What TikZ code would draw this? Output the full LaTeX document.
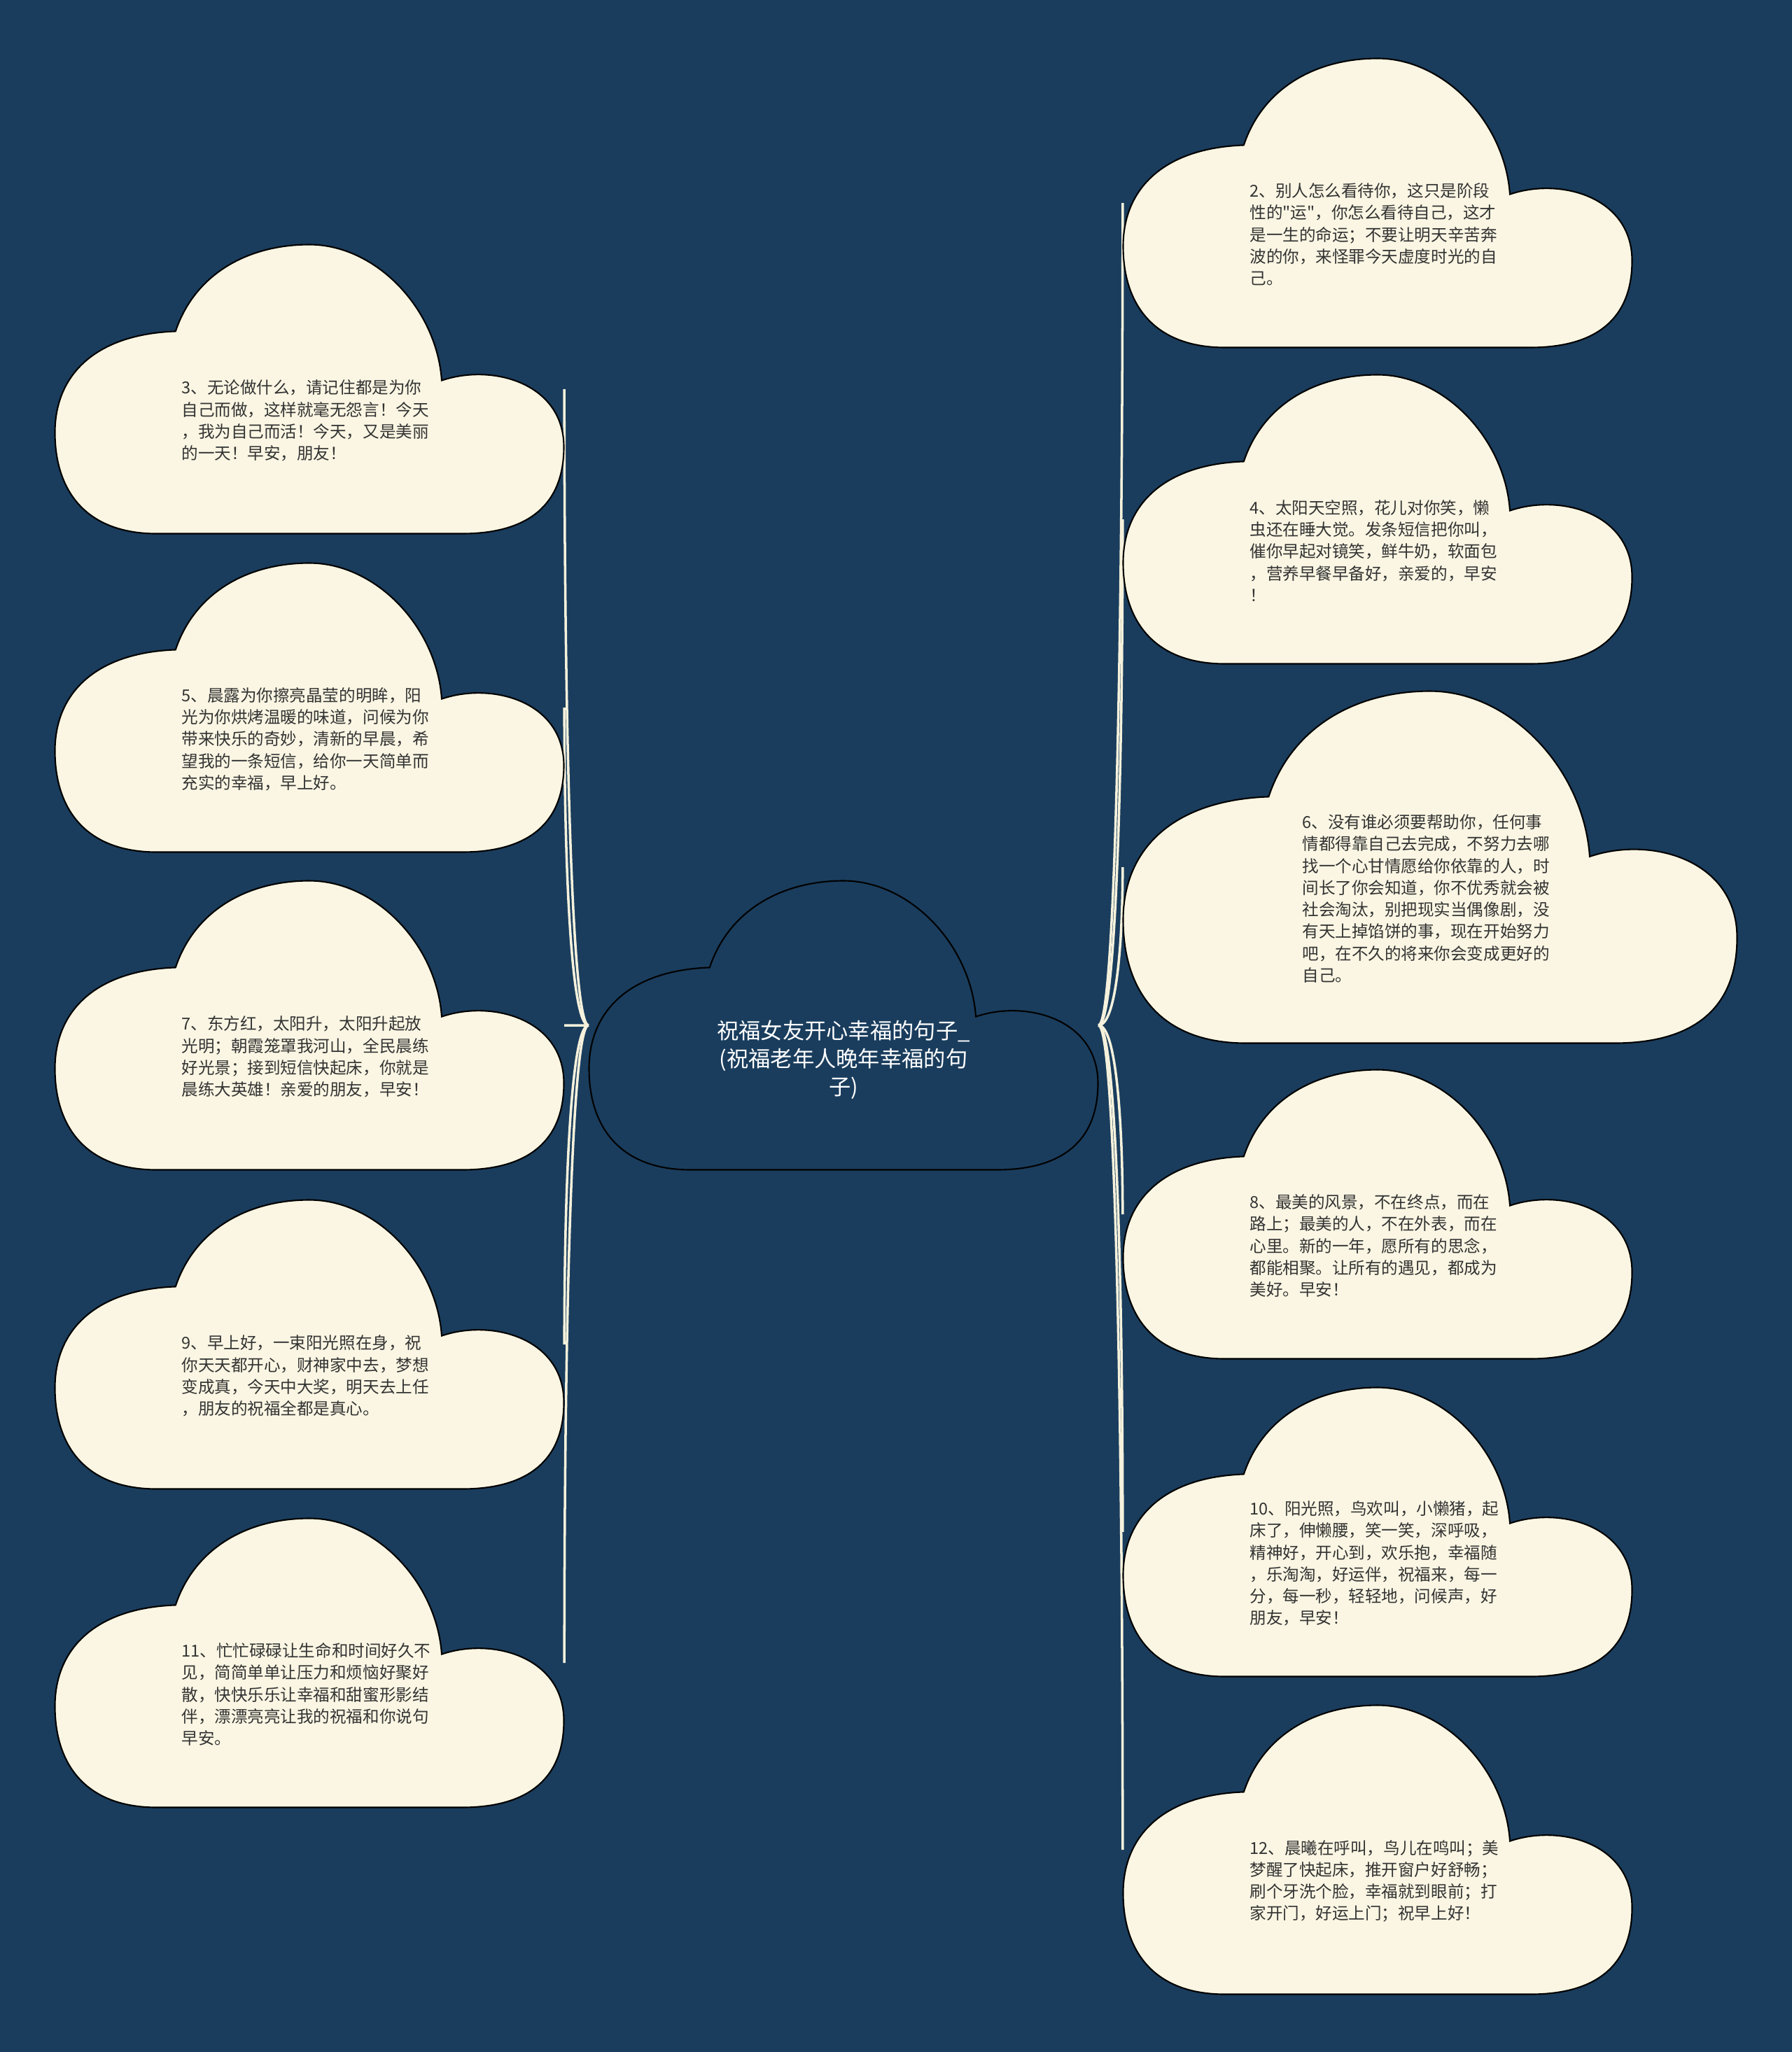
\documentclass[tikz,border=0pt]{standalone}
\usepackage{fontspec}
\setmainfont{Noto Sans CJK SC}[Ligatures=TeXOff]
\usepackage{tikz}
\usetikzlibrary{positioning,calc}
\definecolor{navy}{HTML}{1A3D5D}
\definecolor{cream}{HTML}{FAF6E3}
\definecolor{ink}{HTML}{333333}
\definecolor{twig}{HTML}{F5F1DC}
\tikzset{
  cloudbox/.style={minimum width=7.27cm, minimum height=4.13cm, inner sep=0pt},
  bigbox/.style={minimum width=8.77cm, minimum height=5.03cm, inner sep=0pt},
  cloudskin/.style={fill=cream, draw=black, line width=0.6pt},
  rootskin/.style={fill=navy, draw=black, line width=0.6pt},
  cloudtext/.style={text=ink, font=\fontsize{6.7}{8.9}\selectfont, text width=3.55cm, align=left, inner sep=0pt},
  roottext/.style={text=white, font=\fontsize{8.9}{11.4}\selectfont, align=center, inner sep=0pt},
  link/.style={twig, line width=1pt},
  pics/cloud/.style 2 args={code={
    \path[pic actions, xscale=#1, yscale=#2] (-0.263,0.2)
      .. controls (-0.225,0.4) and (-0.12,0.5) .. (0,0.5)
      .. controls (0.13,0.5) and (0.25,0.28) .. (0.26,0.03)
      .. controls (0.36,0.09) and (0.5,0.02) .. (0.5,-0.2)
      .. controls (0.5,-0.4) and (0.43,-0.5) .. (0.3,-0.5)
      -- (-0.3,-0.5)
      .. controls (-0.44,-0.5) and (-0.5,-0.35) .. (-0.5,-0.15)
      .. controls (-0.5,0.05) and (-0.42,0.19) .. (-0.263,0.2) -- cycle;
  }}
}

\begin{document}
\begin{tikzpicture}
  \fill[navy] (0,0) rectangle (25.6,-29.32);

  % cloud frames
  \node[cloudbox] (root) at (12.05,-14.65) {};
  \node[cloudbox] (n3)  at (4.42,-5.56) {};
  \node[cloudbox] (n5)  at (4.42,-10.11) {};
  \node[cloudbox] (n7)  at (4.42,-14.65) {};
  \node[cloudbox] (n9)  at (4.42,-19.21) {};
  \node[cloudbox] (n11) at (4.42,-23.76) {};
  \node[cloudbox] (n2)  at (19.68,-2.90) {};
  \node[cloudbox] (n4)  at (19.68,-7.42) {};
  \node[bigbox]   (n6)  at (20.43,-12.39) {};
  \node[cloudbox] (n8)  at (19.68,-17.35) {};
  \node[cloudbox] (n10) at (19.68,-21.89) {};
  \node[cloudbox] (n12) at (19.68,-26.43) {};

  % branches
  \foreach \n in {n3,n5,n7,n9,n11}
    \draw[link] (root.west) .. controls +(-0.25,0) and ($(\n.east)!0.5!(\n.east |- root.west)$) .. (\n.east);
  \foreach \n in {n2,n4,n6,n8,n10,n12}
    \draw[link] (root.east) .. controls +(0.25,0) and ($(\n.west)!0.5!(\n.west |- root.east)$) .. (\n.west);

  \pic[rootskin] at (root.center) {cloud={7.27}{4.13}};
  \foreach \n in {n3,n5,n7,n9,n11,n2,n4,n8,n10,n12}
    \pic[cloudskin] at (\n.center) {cloud={7.27}{4.13}};
  \pic[cloudskin] at (n6.center) {cloud={8.77}{5.03}};

  % texts
  \node[roottext] (t1) at ([yshift=-0.49cm]root.center) {祝福女友开心幸福的句子\_\\(祝福老年人晚年幸福的句\\子)};
  \node[cloudtext] (t2) at ([xshift=-0.05cm,yshift=-0.45cm]n2.center) {2、别人怎么看待你，这只是阶段\\性的"运"，你怎么看待自己，这才\\是一生的命运；不要让明天辛苦奔\\波的你，来怪罪今天虚度时光的自\\己。};
  \node[cloudtext] (t3) at ([xshift=-0.05cm,yshift=-0.45cm]n3.center) {3、无论做什么，请记住都是为你\\自己而做，这样就毫无怨言！今天\\，我为自己而活！今天，又是美丽\\的一天！早安，朋友！};
  \node[cloudtext] (t4) at ([xshift=-0.05cm,yshift=-0.45cm]n4.center) {4、太阳天空照，花儿对你笑，懒\\虫还在睡大觉。发条短信把你叫，\\催你早起对镜笑，鲜牛奶，软面包\\，营养早餐早备好，亲爱的，早安\\！};
  \node[cloudtext] (t5) at ([xshift=-0.05cm,yshift=-0.45cm]n5.center) {5、晨露为你擦亮晶莹的明眸，阳\\光为你烘烤温暖的味道，问候为你\\带来快乐的奇妙，清新的早晨，希\\望我的一条短信，给你一天简单而\\充实的幸福，早上好。};
  \node[cloudtext] (t6) at ([xshift=-0.05cm,yshift=-0.45cm]n6.center) {6、没有谁必须要帮助你，任何事\\情都得靠自己去完成，不努力去哪\\找一个心甘情愿给你依靠的人，时\\间长了你会知道，你不优秀就会被\\社会淘汰，别把现实当偶像剧，没\\有天上掉馅饼的事，现在开始努力\\吧，在不久的将来你会变成更好的\\自己。};
  \node[cloudtext] (t7) at ([xshift=-0.05cm,yshift=-0.45cm]n7.center) {7、东方红，太阳升，太阳升起放\\光明；朝霞笼罩我河山，全民晨练\\好光景；接到短信快起床，你就是\\晨练大英雄！亲爱的朋友，早安！};
  \node[cloudtext] (t8) at ([xshift=-0.05cm,yshift=-0.45cm]n8.center) {8、最美的风景，不在终点，而在\\路上；最美的人，不在外表，而在\\心里。新的一年，愿所有的思念，\\都能相聚。让所有的遇见，都成为\\美好。早安！};
  \node[cloudtext] (t9) at ([xshift=-0.05cm,yshift=-0.45cm]n9.center) {9、早上好，一束阳光照在身，祝\\你天天都开心，财神家中去，梦想\\变成真，今天中大奖，明天去上任\\，朋友的祝福全都是真心。};
  \node[cloudtext] (t10) at ([xshift=-0.05cm,yshift=-0.45cm]n10.center) {10、阳光照，鸟欢叫，小懒猪，起\\床了，伸懒腰，笑一笑，深呼吸，\\精神好，开心到，欢乐抱，幸福随\\，乐淘淘，好运伴，祝福来，每一\\分，每一秒，轻轻地，问候声，好\\朋友，早安！};
  \node[cloudtext] (t11) at ([xshift=-0.05cm,yshift=-0.45cm]n11.center) {11、忙忙碌碌让生命和时间好久不\\见，简简单单让压力和烦恼好聚好\\散，快快乐乐让幸福和甜蜜形影结\\伴，漂漂亮亮让我的祝福和你说句\\早安。};
  \node[cloudtext] (t12) at ([xshift=-0.05cm,yshift=-0.45cm]n12.center) {12、晨曦在呼叫，鸟儿在鸣叫；美\\梦醒了快起床，推开窗户好舒畅；\\刷个牙洗个脸，幸福就到眼前；打\\家开门，好运上门；祝早上好！};
\end{tikzpicture}
\end{document}
